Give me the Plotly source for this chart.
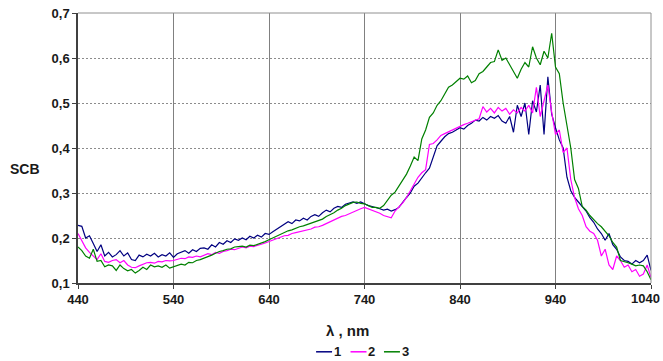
import plotly.graph_objects as go

wavelength = list(range(440, 1041, 4))

scb_1 = [
    .228, .226, .200, .205, .188, .170, .185, .160, .168, .158,
    .163, .172, .160, .167, .152, .150, .162, .158, .164, .160,
    .166, .158, .163, .160, .167, .157, .165, .168, .172, .166,
    .174, .170, .177, .178, .175, .185, .180, .190, .186, .194,
    .190, .198, .195, .200, .196, .204, .200, .206, .202, .210,
    .208, .214, .220, .226, .232, .236, .232, .240, .238, .244,
    .240, .248, .252, .248, .256, .262, .258, .266, .270, .268,
    .275, .278, .280, .277, .280, .276, .272, .270, .268, .265,
    .262, .264, .260, .263, .268, .280, .290, .300, .315, .322,
    .335, .345, .355, .380, .405, .415, .425, .432, .435, .440,
    .445, .442, .450, .455, .462, .460, .468, .462, .470, .466,
    .472, .460, .455, .470, .435, .495, .470, .500, .430, .505,
    .480, .540, .430, .558, .475, .445, .418, .400, .335, .305,
    .290, .280, .270, .260, .245, .235, .220, .210, .195, .210,
    .185, .175, .158, .150, .148, .142, .150, .145, .150, .162,
    .128,
]

scb_2 = [
    .210, .195, .178, .168, .160, .152, .165, .148, .146, .150,
    .152, .145, .150, .140, .135, .134, .138, .142, .145, .146,
    .144, .148, .147, .150, .149, .150, .152, .155, .154, .158,
    .157, .160, .158, .162, .165, .163, .168, .166, .170, .172,
    .175, .174, .177, .180, .178, .182, .181, .183, .186, .189,
    .192, .195, .198, .202, .205, .206, .210, .212, .214, .216,
    .218, .220, .224, .225, .228, .232, .236, .240, .244, .248,
    .250, .254, .258, .262, .265, .268, .265, .262, .258, .255,
    .250, .247, .245, .260, .268, .278, .290, .305, .320, .335,
    .345, .352, .408, .410, .418, .428, .432, .436, .440, .445,
    .448, .452, .455, .458, .462, .465, .492, .480, .488, .478,
    .490, .482, .488, .475, .485, .478, .490, .482, .495, .478,
    .535, .470, .505, .540, .480, .430, .440, .390, .400, .330,
    .290, .265, .250, .225, .215, .210, .195, .160, .175, .140,
    .130, .160, .150, .135, .140, .125, .130, .115, .120, .140,
    .112,
]

scb_3 = [
    .180, .172, .160, .155, .175, .148, .150, .136, .140, .138,
    .128, .140, .132, .127, .130, .122, .128, .135, .130, .140,
    .136, .138, .135, .140, .133, .136, .138, .142, .140, .146,
    .145, .150, .152, .155, .158, .162, .166, .170, .172, .175,
    .176, .180, .181, .182, .180, .184, .183, .186, .188, .192,
    .196, .200, .204, .208, .212, .216, .218, .222, .225, .227,
    .230, .233, .236, .238, .242, .248, .252, .256, .262, .266,
    .272, .276, .279, .280, .277, .276, .272, .268, .268, .266,
    .272, .285, .295, .302, .315, .330, .342, .360, .380, .372,
    .420, .440, .468, .478, .495, .505, .520, .535, .540, .548,
    .555, .553, .560, .545, .550, .565, .570, .580, .590, .592,
    .618, .595, .600, .585, .570, .555, .575, .590, .580, .625,
    .600, .585, .615, .600, .655, .580, .565, .500, .450, .400,
    .330, .310, .270, .262, .250, .240, .232, .225, .215, .205,
    .190, .180, .150, .148, .145, .142, .138, .140, .138, .125,
    .107,
]

series_names = ["1", "2", "3"]
series_colors = ["#000080", "#FF00FF", "#008000"]
y_ticks = [0.1, 0.2, 0.3, 0.4, 0.5, 0.6, 0.7]
x_ticks = [440, 540, 640, 740, 840, 940, 1040]
x_tick_labels = ["440", "540", "640", "740", "840", "940", "1040"]

FONT = "Arial, 'Liberation Sans', sans-serif"
TXT = "#1a1a1a"

# plot area in pixels
L, R, T, B = 77.5, 651.5, 12.7, 282.7
W, H = 663, 361


def px_to_paper(px, py):
    return (px - L) / (R - L), (B - py) / (B - T)


fig = go.Figure()
for name, vals, col in zip(series_names, [scb_1, scb_2, scb_3], series_colors):
    fig.add_trace(go.Scatter(x=wavelength, y=vals, mode="lines", name=name,
                             line=dict(color=col, width=1.2)))

fig.update_layout(
    width=W, height=H,
    margin=dict(l=L, r=W - R, t=T, b=H - B, autoexpand=False),
    paper_bgcolor="white", plot_bgcolor="white",
    separators=", ",
    showlegend=False,
    font=dict(family=FONT, size=13, color=TXT),
)
# last tick label is drawn as an annotation so it is not clipped at the page edge
fig.update_xaxes(
    range=[440, 1040], tickvals=x_ticks, ticktext=x_tick_labels[:-1] + [""],
    ticks="outside", ticklen=4, tickcolor="#404040",
    showgrid=True, gridcolor="#808080", gridwidth=1,
    showline=True, linecolor="#404040", linewidth=1.5, mirror=False,
    tickfont=dict(family=FONT, size=13, weight="bold", color=TXT),
    zeroline=False, automargin=False,
)
fig.update_yaxes(
    range=[0.1, 0.7], tickvals=y_ticks, tickformat=".1f",
    ticks="outside", ticklen=4, tickcolor="#404040",
    showgrid=True, gridcolor="#8c8c8c", gridwidth=1, griddash="2px,2px",
    showline=True, linecolor="#404040", linewidth=1.5, mirror=False,
    tickfont=dict(family=FONT, size=13, weight="bold", color=TXT),
    zeroline=False, automargin=False,
)
fig.add_annotation(text=f"<b>{x_tick_labels[-1]}</b>", x=x_ticks[-1], xref="x",
                   y=px_to_paper(0, 298.5)[1], yref="paper",
                   xanchor="right", xshift=11, yanchor="middle", showarrow=False,
                   font=dict(family=FONT, size=13, color=TXT))

# plot frame (top & right)
fig.add_shape(type="line", xref="paper", yref="paper", x0=0, x1=1, y0=1, y1=1,
              line=dict(color="#909090", width=1))
fig.add_shape(type="line", xref="paper", yref="paper", x0=1, x1=1, y0=0, y1=1,
              line=dict(color="#909090", width=1))

sx, sy = px_to_paper(24, 169)
fig.add_annotation(text="<b>SCB</b>", xref="paper", yref="paper",
                   x=sx, y=sy, xanchor="center", yanchor="middle",
                   showarrow=False, font=dict(family=FONT, size=14, color=TXT))
lx, ly = px_to_paper(347, 330)
fig.add_annotation(text="<b>λ , nm</b>", xref="paper", yref="paper",
                   x=lx, y=ly, xanchor="center", yanchor="middle",
                   showarrow=False, font=dict(family=FONT, size=15, color=TXT))

# legend: short line samples + bold labels
leg_y = 351.5
leg_items = [(316, 332, 337.5), (350.5, 366.5, 372), (384, 400, 406)]
for (x0, x1, xt), name, col in zip(leg_items, series_names, series_colors):
    p0, py0 = px_to_paper(x0, leg_y)
    p1, _ = px_to_paper(x1, leg_y)
    fig.add_shape(type="line", xref="paper", yref="paper", x0=p0, x1=p1, y0=py0, y1=py0,
                  line=dict(color=col, width=1.5))
    tx, _ = px_to_paper(xt, leg_y)
    fig.add_annotation(text=f"<b>{name}</b>", xref="paper", yref="paper",
                       x=tx, y=py0, xanchor="center", yanchor="middle",
                       showarrow=False, font=dict(family=FONT, size=13, color=TXT))

fig.write_html("out.html", config={"displayModeBar": False},
               post_script="document.body.style.margin='0';")
